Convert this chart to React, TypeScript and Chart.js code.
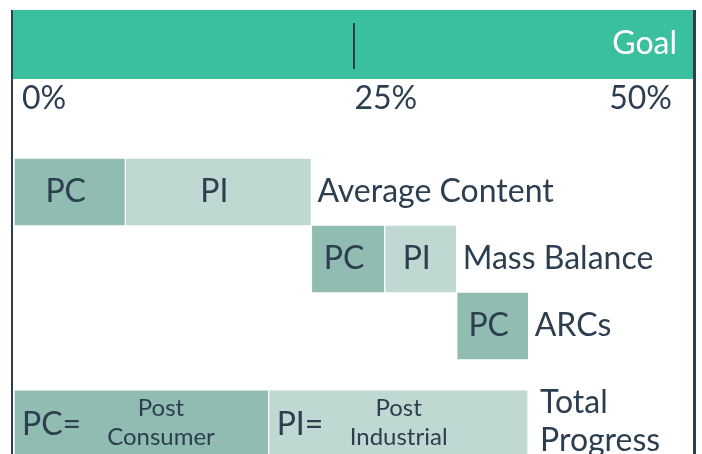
import React, { useEffect, useRef } from "react";
import { Chart, registerables } from "chart.js";

Chart.register(...registerables);

// ---- data ----
const categories = ["Average Content", "Mass Balance", "ARCs"];
const pcValues = [8.2, 5.4, 5.3];
const piValues = [13.7, 5.3, 0];
const totalLabel = ["Total", "Progress"];
const totalPC = 18.75;
const totalPI = 19.1;
const axisTicks = [0, 25, 50];
const goalLabel = "Goal";
const goalMarker = 25;
const segmentLabels = ["PC", "PI"];
const segmentNames = [["Post", "Consumer"], ["Post", "Industrial"]];

// ---- style ----
const TEAL = "#3abf9f";
const PC_COLOR = "#90bcb1";
const PI_COLOR = "#bfd8d1";
const DARK = "#2c3e50";
const FONT = "Lato, 'Noto Sans', sans-serif";
const TOTAL_ROW = categories.length + 0.46;

export default function App() {
  const ref = useRef<HTMLCanvasElement | null>(null);

  useEffect(() => {
    document.body.style.margin = "0";
    const canvas = ref.current!;
    const pcData: any[] = [];
    const piData: any[] = [];
    let cum = 0;
    categories.forEach((_, i) => {
      pcData.push({ x: [cum, cum + pcValues[i]], y: i, row: i });
      cum += pcValues[i];
      if (piValues[i] > 0) {
        piData.push({ x: [cum, cum + piValues[i]], y: i, row: i });
        cum += piValues[i];
      }
    });
    pcData.push({ x: [0, totalPC], y: TOTAL_ROW, row: -1 });
    piData.push({ x: [totalPC, totalPC + totalPI], y: TOTAL_ROW, row: -1 });

    const deco = {
      id: "deco",
      beforeDatasetsDraw(chart: any) {
        const ctx = chart.ctx;
        const xs = chart.scales.x;
        ctx.save();
        // header band
        ctx.fillStyle = TEAL;
        ctx.fillRect(13, 10, 680, 69);
        // frame lines
        ctx.fillStyle = DARK;
        ctx.fillRect(11, 10, 2, 454);
        ctx.fillRect(693, 10, 3, 454);
        // goal marker
        const gx = xs.getPixelForValue(goalMarker);
        ctx.fillRect(Math.round(gx) - 1, 23, 2, 46);
        // goal label
        ctx.fillStyle = "#ffffff";
        ctx.font = `32px ${FONT}`;
        ctx.textAlign = "right";
        ctx.textBaseline = "middle";
        ctx.fillText(goalLabel, 677, 44);
        // tick labels
        ctx.fillStyle = DARK;
        ctx.font = `32px ${FONT}`;
        axisTicks.forEach((t, i) => {
          const px = xs.getPixelForValue(t);
          if (i === 0) {
            ctx.textAlign = "left";
            ctx.fillText(t + "%", px + 8, 99);
          } else if (i === axisTicks.length - 1) {
            ctx.textAlign = "right";
            ctx.fillText(t + "%", px - 21, 99);
          } else {
            ctx.textAlign = "left";
            ctx.fillText(t + "%", px + 1, 99);
          }
        });
        ctx.restore();
      },
      afterDatasetsDraw(chart: any) {
        const ctx = chart.ctx;
        ctx.save();
        ctx.fillStyle = DARK;
        ctx.textBaseline = "middle";
        const rowEnd: number[] = [];
        let totalEnd = 0;
        [0, 1].forEach((di) => {
          const meta = chart.getDatasetMeta(di);
          meta.data.forEach((bar: any, j: number) => {
            const raw = chart.data.datasets[di].data[j];
            const left = Math.min(bar.x, bar.base);
            const right = Math.max(bar.x, bar.base);
            if (raw.row >= 0) {
              ctx.font = `32px ${FONT}`;
              ctx.textAlign = "center";
              ctx.fillText(segmentLabels[di], (left + right) / 2 - 4, bar.y);
              rowEnd[raw.row] = Math.max(rowEnd[raw.row] || 0, right);
            } else {
              ctx.font = `32px ${FONT}`;
              ctx.textAlign = "left";
              ctx.fillText(segmentLabels[di] + "=", left + 8, bar.y + 1);
              ctx.font = `24px ${FONT}`;
              ctx.textAlign = "center";
              const cx = di === 0 ? left + 147 : left + 130;
              ctx.fillText(segmentNames[di][0], cx, bar.y - 16);
              ctx.fillText(segmentNames[di][1], cx, bar.y + 13);
              totalEnd = Math.max(totalEnd, right);
            }
          });
        });
        ctx.font = `32px ${FONT}`;
        ctx.textAlign = "left";
        const ys = chart.scales.y;
        categories.forEach((c, i) => {
          ctx.fillText(c, rowEnd[i] + 6, ys.getPixelForValue(i));
        });
        const ty = ys.getPixelForValue(TOTAL_ROW);
        ctx.fillText(totalLabel[0], totalEnd + 12, ty - 21);
        ctx.fillText(totalLabel[1], totalEnd + 12, ty + 17);
        ctx.restore();
      },
    };

    const chart = new Chart(canvas, {
      type: "bar",
      data: {
        datasets: [
          {
            label: "PC",
            data: pcData,
            backgroundColor: PC_COLOR,
            borderColor: "#ffffff",
            borderWidth: 1,
            borderSkipped: false,
            barThickness: 68,
            grouped: false,
          } as any,
          {
            label: "PI",
            data: piData,
            backgroundColor: PI_COLOR,
            borderColor: "#ffffff",
            borderWidth: 1,
            borderSkipped: false,
            barThickness: 68,
            grouped: false,
          } as any,
        ],
      },
      options: {
        indexAxis: "y",
        animation: false,
        responsive: false,
        devicePixelRatio: 1,
        layout: { padding: { left: 14, right: 9, top: 0, bottom: 0 } },
        plugins: { legend: { display: false }, tooltip: { enabled: false } },
        scales: {
          x: { type: "linear", min: 0, max: 50, display: false, offset: false },
          y: { type: "linear", min: -2.866, max: 3.91, reverse: true, display: false, offset: false },
        },
      },
      plugins: [deco],
    });
    return () => chart.destroy();
  }, []);

  return <canvas ref={ref} width={702} height={454} style={{ display: "block" }} />;
}
